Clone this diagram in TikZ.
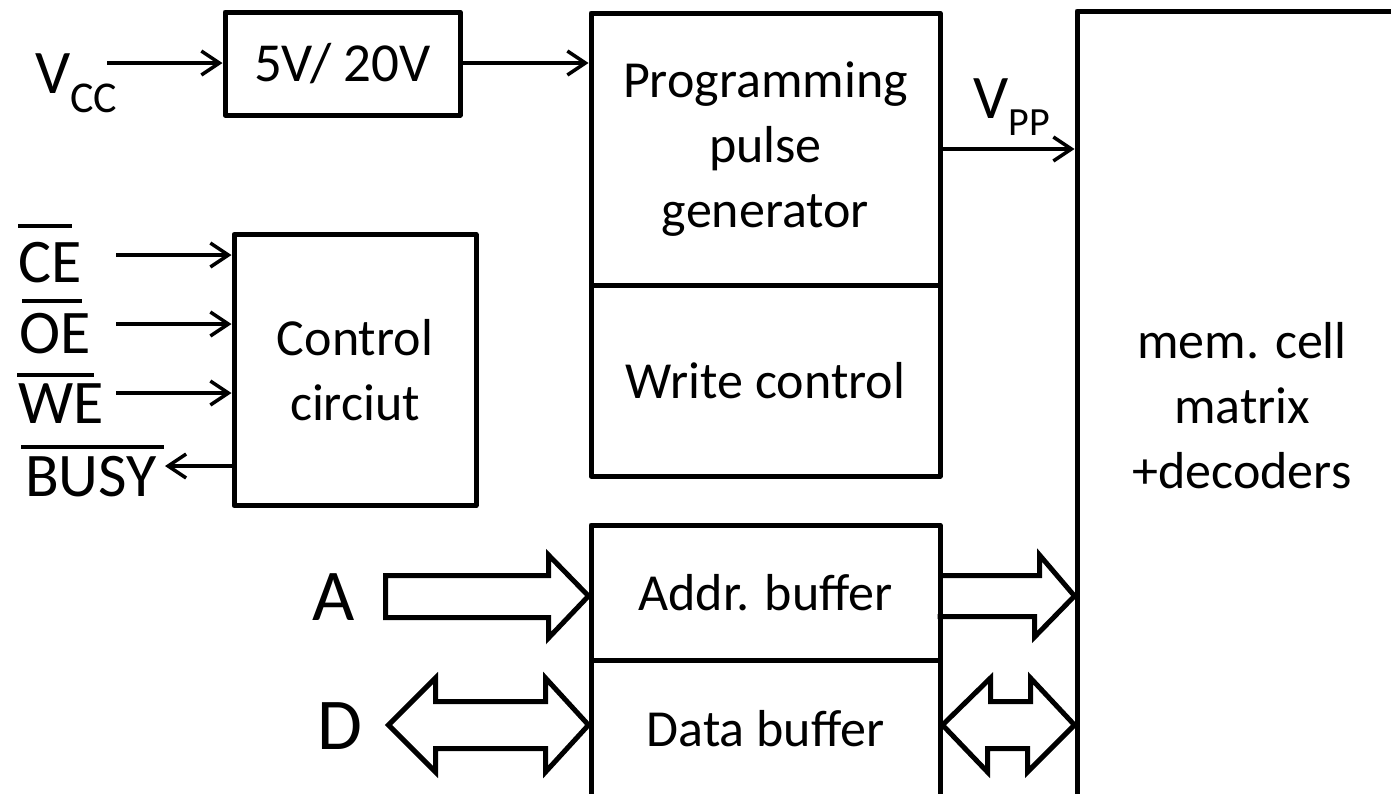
\documentclass[tikz,border=0pt]{standalone}
\usepackage{fontspec}
\setmainfont{Carlito}
\usetikzlibrary{arrows.meta}

\tikzset{
  box/.style={draw, line width=5pt, line join=round, inner sep=0pt,
              align=center, font=\fontsize{52}{65}\selectfont},
  sig/.style={line width=3.5pt,
              -{Straight Barb[length=18pt,width=24pt,line width=3.5pt]}},
  bus/.style={draw, line width=5pt, line join=miter},
  lbl/.style={inner sep=0pt, anchor=base west, font=\fontsize{62}{62}\selectfont},
  biglbl/.style={inner sep=0pt, anchor=base west, font=\fontsize{73}{73}\selectfont},
  bar/.style={line width=4pt},
}

\begin{document}
\begin{tikzpicture}[x=1pt, y=-1pt]
  \useasboundingbox (0,0) rectangle (1391,793);
  \fill[white] (0,0) rectangle (1391,793);
  \clip (0,0) rectangle (1391,793);

  % functional blocks
  \node[box, minimum width=235, minimum height=103, font=\fontsize{55}{65}\selectfont]
       (conv) at (342.5,63.5) {5V/ 20V};
  \node[box, minimum width=349, minimum height=272] (ppg) at (765.5,149)
       {Programming\\pulse\\generator};
  \node[box, minimum width=349, minimum height=191] (wctl) at (765.5,380.5) {Write control};
  \node[box, minimum width=242, minimum height=271] (ctrl) at (355,370) {Control\\circiut};
  \node[box, minimum width=349, minimum height=135] (addr) at (765.5,592.5) {Addr. buffer};
  \node[box, minimum width=349, minimum height=138] (data) at (765.5,729) {Data buffer};
  \node[box, minimum width=330, minimum height=790] (mem) at (1242,406)
       {mem. cell\\matrix\\+decoders};

  % supply labels
  \node[lbl] (vcc) at (35,93) {V\raisebox{-19pt}{\fontsize{44}{44}\selectfont CC}};
  \node[lbl] (vpp) at (973,118) {V\raisebox{-17pt}{\fontsize{40}{40}\selectfont PP}};

  % supply path
  \coordinate (vccin) at (107,63);
  \draw[sig] (vccin) -- (conv.west |- vccin);
  \draw[sig] (conv.east |- vccin) -- (ppg.west |- vccin);
  \coordinate (vppy) at (0,149);
  \draw[sig] (ppg.east |- vppy) -- (mem.west |- vppy);

  % control signals (active low)
  \node[lbl] (ce)   at (18,282) {CE};
  \node[lbl] (oe)   at (19,353) {OE};
  \node[lbl] (we)   at (18,423) {WE};
  \node[lbl] (busy) at (25,496) {BUSY};
  \draw[bar] ([yshift=56pt]ce.base west) -- ++(54,0);
  \draw[bar] ([xshift=3pt,yshift=52pt]oe.base west) -- ++(60,0);
  \draw[bar] ([xshift=-1pt,yshift=48pt]we.base west) -- ++(77,0);
  \draw[bar] ([xshift=-4pt,yshift=49pt]busy.base west) -- ++(143,0);

  \coordinate (cein) at (116,255);
  \coordinate (oein) at (116,324);
  \coordinate (wein) at (116,393);
  \coordinate (busyout) at (165,466);
  \draw[sig] (cein) -- (ctrl.west |- cein);
  \draw[sig] (oein) -- (ctrl.west |- oein);
  \draw[sig] (wein) -- (ctrl.west |- wein);
  \draw[sig] (ctrl.west |- busyout) -- (busyout);

  % buses
  \node[biglbl] (alab) at (312,620) {A};
  \node[biglbl] (dlab) at (317,749) {D};

  \coordinate (ay) at (0,596);
  \coordinate (dy) at (0,725);

  % address bus into the buffer
  \draw[bus] (addr.west |- ay) -- ++(-40,-41) -- ++(0,20.5) -- ++(-163,0)
             -- ++(0,42) -- ++(163,0) -- ++(0,20.5) -- cycle;
  % address bus to the matrix
  \draw[bus] (addr.east |- ay) ++(0,-20.5) -- ++(97,0) -- ++(0,-20.5)
             -- (mem.west |- ay) -- ++(-40,41) -- ++(0,-20.5) -- ++(-97,0);

  % data bus, outside
  \draw[bus] (data.west |- dy) -- ++(-43,-47) -- ++(0,23.5) -- ++(-110,0)
             -- ++(0,-23.5) -- ++(-47,47) -- ++(47,47) -- ++(0,-23.5)
             -- ++(110,0) -- ++(0,23.5) -- cycle;
  % data bus, inside
  \draw[bus] (data.east |- dy) -- ++(48,-47) -- ++(0,23.5) -- ++(40,0)
             -- ++(0,-23.5) -- (mem.west |- dy) -- ++(-47,47) -- ++(0,-23.5)
             -- ++(-40,0) -- ++(0,23.5) -- cycle;
\end{tikzpicture}
\end{document}
